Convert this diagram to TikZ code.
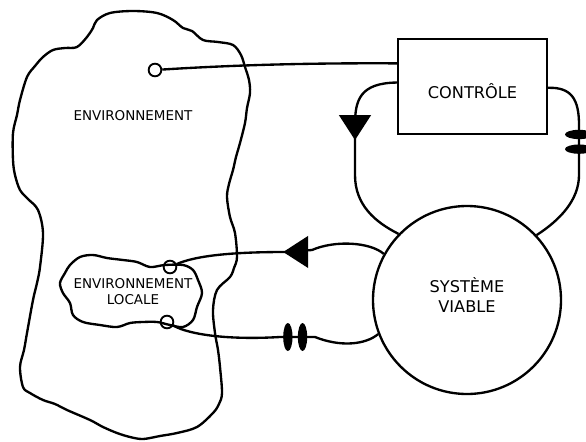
\documentclass[tikz,border=0pt]{standalone}
\usepackage{fontspec}
\setmainfont{DejaVu Sans}
\usetikzlibrary{arrows.meta, decorations.markings, positioning}

\tikzset{
    trait/.style={line width=2pt},
    port/.style={circle, draw, line width=1.6pt, inner sep=0pt, minimum size=0.38cm},
    etiquette/.style={font=\fontsize{11.5}{13.6}\selectfont, align=center},
    grand/.style={font=\fontsize{13.8}{17}\selectfont, align=center},
    midtri/.style={postaction=decorate, decoration={markings,
        mark=at position #1 with {\arrow{Triangle[length=0.75cm, width=0.95cm]}}}},
    ressort/.style={postaction=decorate, decoration={markings,
        mark=at position #1 with {
            \fill (-0.22cm,0) ellipse [x radius=0.14cm, y radius=0.42cm];
            \fill ( 0.22cm,0) ellipse [x radius=0.14cm, y radius=0.42cm];}}}
}

\begin{document}
\begin{tikzpicture}[x=0.03cm, y=-0.03cm, trait]
    \useasboundingbox (0,0) rectangle (586,441);
    % Blocs
    \node[draw, trait, minimum width=4.47cm, minimum height=2.85cm,
          label={[grand, yshift=-4pt]center:CONTRÔLE}] (controle) at (472.5,86.5) {};
    \node[draw, trait, circle, minimum size=5.64cm,
          label={[grand, yshift=4pt]center:SYSTÈME\\VIABLE}] (systeme) at (467,300) {};
    % Environnements
    \draw[trait] plot[smooth cycle, tension=0.55] coordinates {
        (110,13) (133,11) (157,13) (173,20) (183,28) (192,31) (203,40) (218,42)
        (233,45) (241,55) (245,67) (249,80) (250,93) (247,108) (245,123)
        (240,143) (236,157) (233,170) (229,184) (227,197) (230,217) (235,233)
        (237,257) (234,268) (230,277) (217,290) (213,310) (215,333) (218,350)
        (220,367) (222,393) (219,404) (213,413) (197,427) (177,433) (160,436)
        (143,439) (130,437) (117,433) (103,427) (90,420) (67,410) (55,404)
        (43,400) (30,393) (23,387) (20,367) (24,350) (27,333) (33,300) (37,283)
        (40,267) (43,233) (38,210) (28,199) (20,190) (15,175) (13,160) (13,133)
        (17,115) (20,100) (27,77) (35,66) (43,57) (53,50) (65,48) (77,47)
        (87,37) (93,28) (97,20)};
    \draw[trait] plot[smooth cycle, tension=0.55] coordinates {
        (70,265) (80,257) (93,255) (107,258) (123,260) (137,262) (150,267)
        (165,265) (183,265) (193,270) (198,280) (202,293) (197,307) (193,320)
        (183,327) (170,325) (157,322) (143,322) (130,323) (117,327) (100,325)
        (83,322) (73,315) (70,303) (63,293) (60,283) (65,273)};
    \node[etiquette] (env) at (133,116) {ENVIRONNEMENT};
    \node[etiquette] (envloc) at (133,292) {ENVIRONNEMENT\\LOCALE};
    % Points de contact
    \node[port] (portEnv) at (155,70) {};
    \node[port] (portHaut) at (170,267) {};
    \node[port] (portBas) at (167,322) {};
    % Liaisons
    \draw (portEnv) .. controls (250,64) and (330,63) .. (controle.163);
    \draw[midtri=0.43] (controle.177) .. controls (360,83) and (355,100) .. (355,125)
        -- (355,175) .. controls (355,205) and (375,222) .. (systeme.136);
    \draw[ressort=0.40] (controle.-1) .. controls (572,87) and (579,100) .. (579,125)
        -- (579,175) .. controls (579,200) and (560,220) .. (systeme.43);
    \draw[midtri=0.49] (systeme.151) .. controls (370,242) and (335,240) .. (312,250)
        -- (285,252) .. controls (230,252) and (195,256) .. (portHaut);
    \draw[ressort=0.59] (portBas) .. controls (190,335) and (230,340) .. (280,337)
        -- (315,337) .. controls (340,347) and (365,345) .. (systeme.201);
\end{tikzpicture}
\end{document}
